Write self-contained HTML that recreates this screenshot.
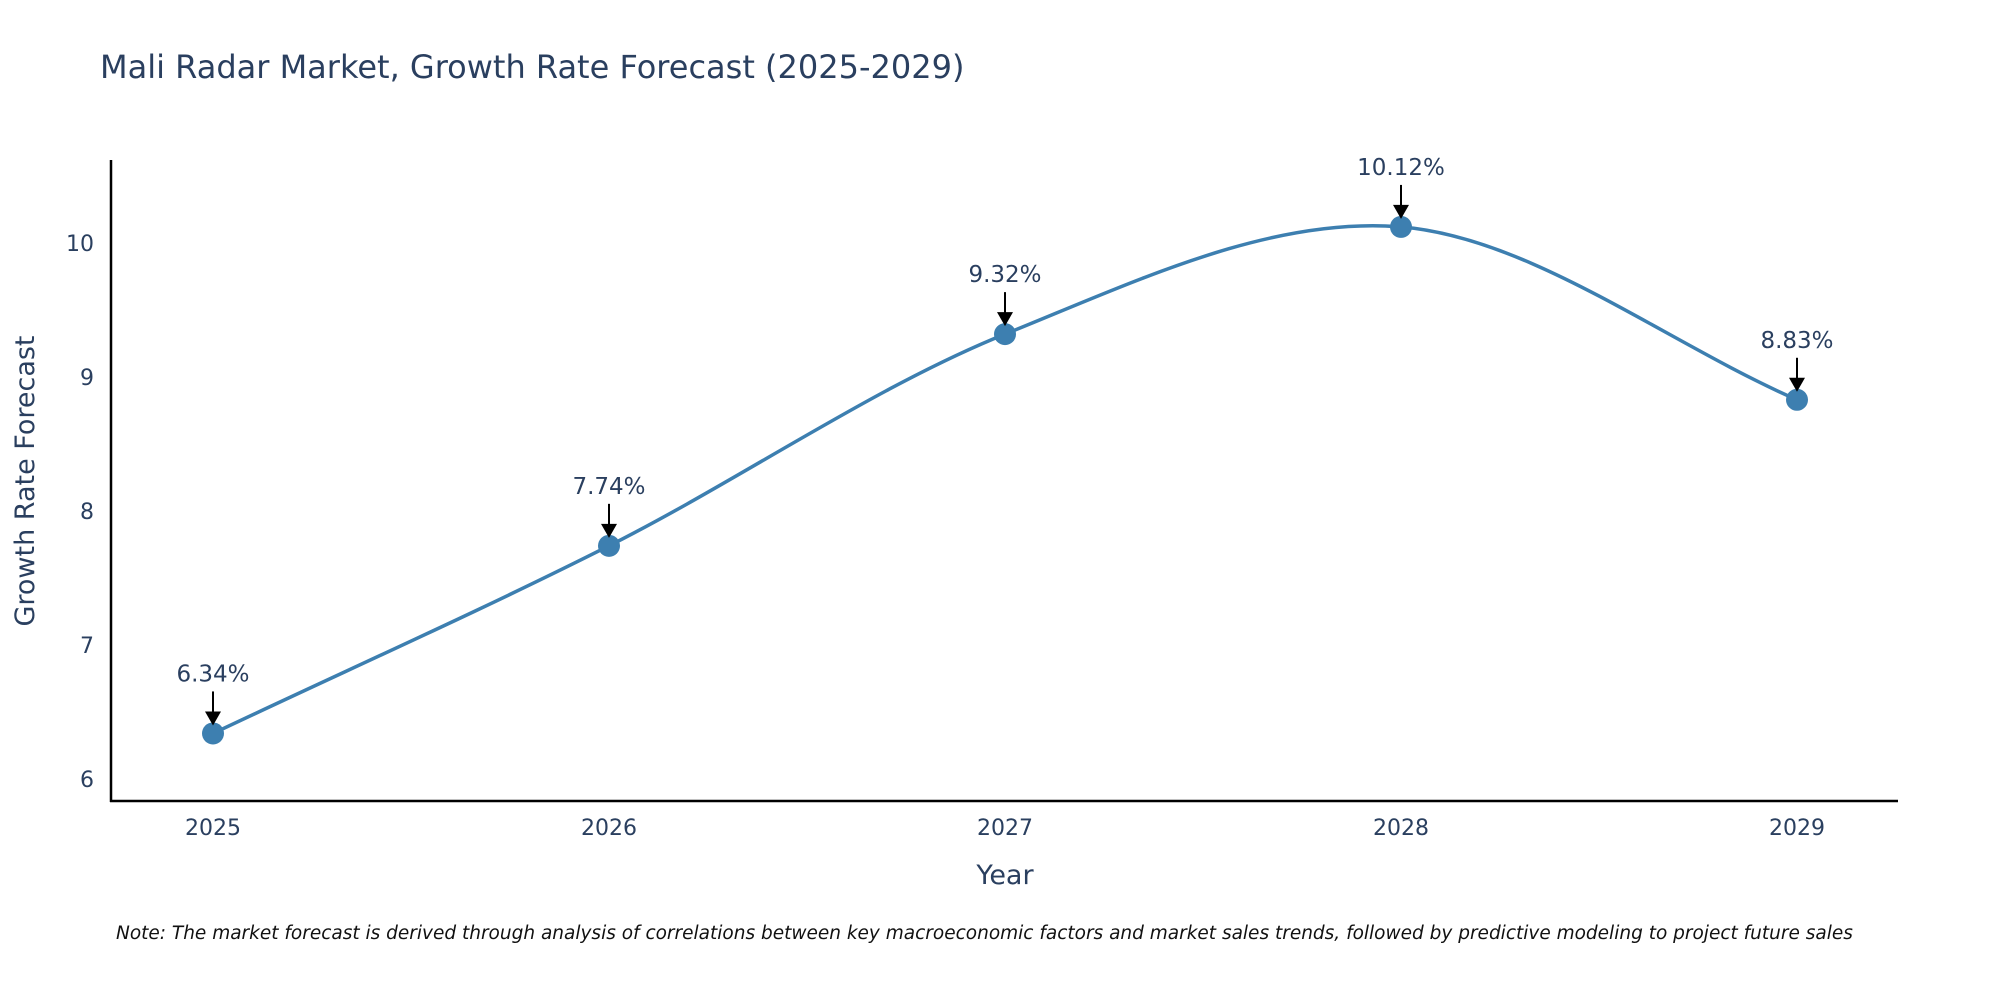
<!DOCTYPE html>
<html><head><meta charset="utf-8">
<style>
body{margin:0;background:#fff;}
svg{display:block;font-family:"DejaVu Sans","Liberation Sans",sans-serif;}
</style></head>
<body>
<svg id="chart" width="2000" height="1000" viewBox="0 0 2000 1000">
<text x="100" y="78" font-size="32" fill="#2a3f5f">Mali Radar Market, Growth Rate Forecast (2025-2029)</text>
<line x1="111" y1="160" x2="111" y2="802" stroke="#000" stroke-width="2.5"/>
<line x1="110" y1="801" x2="1898" y2="801" stroke="#000" stroke-width="2.5"/>
<g id="yticks"></g><g id="xticks"></g>
<text transform="translate(34,481) rotate(-90)" text-anchor="middle" font-size="27" fill="#2a3f5f">Growth Rate Forecast</text>
<text x="1005" y="884" text-anchor="middle" font-size="27" fill="#2a3f5f">Year</text>
<path id="line" fill="none" stroke="#3d7fb0" stroke-width="3.5"/>
<g id="marks"></g>
<text x="116" y="939" font-size="18.5" font-style="italic" fill="#111">Note: The market forecast is derived through analysis of correlations between key macroeconomic factors and market sales trends, followed by predictive modeling to project future sales</text>
</svg>
<script>
const years=[2025,2026,2027,2028,2029];
const values=[6.34,7.74,9.32,10.12,8.83];
const labels=["6.34%","7.74%","9.32%","10.12%","8.83%"];
const yTicks=[6,7,8,9,10];
const NS="http://www.w3.org/2000/svg";
function xs(i){return 213+(i)*396;}
function ys(v){return 779-(v-6)*134;}
function mk(tag,attrs,parent){const e=document.createElementNS(NS,tag);for(const k in attrs)e.setAttribute(k,attrs[k]);parent.appendChild(e);return e;}
const yt=document.getElementById('yticks');
yTicks.forEach(v=>{const t=mk('text',{x:94,y:ys(v)+8,'text-anchor':'end','font-size':22,fill:'#2a3f5f'},yt);t.textContent=v;

});
const xt=document.getElementById('xticks');
years.forEach((y,i)=>{const t=mk('text',{x:xs(i),y:835,'text-anchor':'middle','font-size':22,fill:'#2a3f5f'},xt);t.textContent=y;

});
const P=values.map((v,i)=>[xs(i),ys(v)]);
let d=`M${P[0][0]},${P[0][1]}`;const s=0.33;
for(let i=0;i<P.length-1;i++){const p0=P[i-1]||P[i],p1=P[i],p2=P[i+1],p3=P[i+2]||P[i+1];
const c1=[p1[0]+(p2[0]-p0[0])*s/(i===0?1:2),p1[1]+(p2[1]-p0[1])*s/(i===0?1:2)];
const c2=[p2[0]-(p3[0]-p1[0])*s/(i===P.length-2?1:2),p2[1]-(p3[1]-p1[1])*s/(i===P.length-2?1:2)];
d+=` C${c1[0]},${c1[1]} ${c2[0]},${c2[1]} ${p2[0]},${p2[1]}`;}
document.getElementById('line').setAttribute('d',d);
const g=document.getElementById('marks');
P.forEach((p,i)=>{
const c=mk('circle',{cx:p[0],cy:p[1],r:11,fill:'#3d7fb0'},g);


const l=mk('line',{x1:p[0],y1:p[1]-42,x2:p[0],y2:p[1]-20,stroke:'#000','stroke-width':2},g);


const a=mk('polygon',{points:`${p[0]-8},${p[1]-22} ${p[0]+8},${p[1]-22} ${p[0]},${p[1]-8}`,fill:'#000'},g);


const t=mk('text',{x:p[0],y:p[1]-52,'text-anchor':'middle','font-size':23,fill:'#2a3f5f'},g);t.textContent=labels[i];


});
</script>
</body></html>
